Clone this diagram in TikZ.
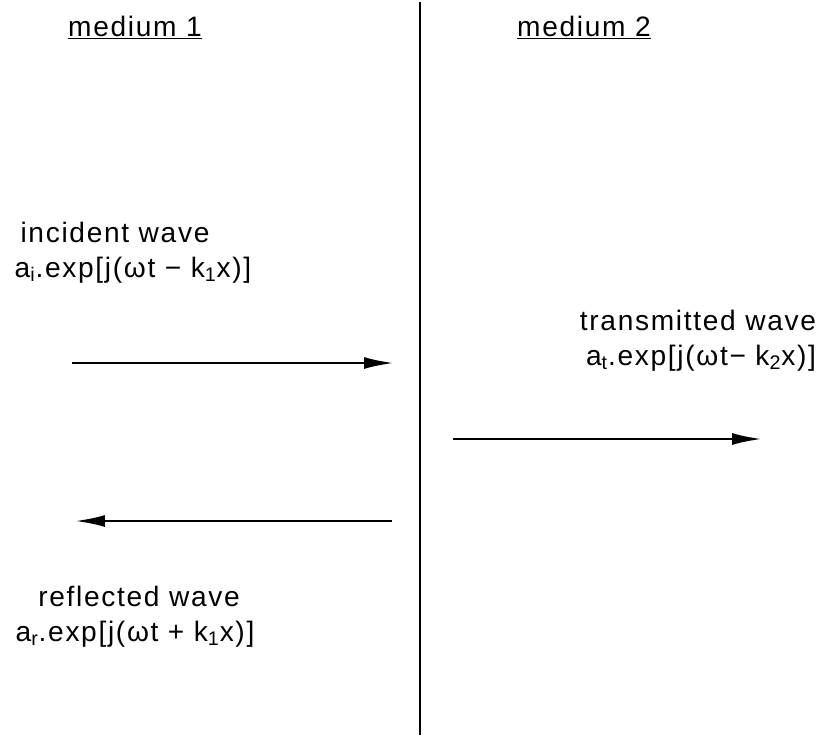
\documentclass[tikz,border=0pt]{standalone}
\usepackage{fontspec}
\setmainfont{Liberation Sans}[LetterSpace=6]
\usetikzlibrary{arrows.meta, positioning}
\tikzset{
    wavetext/.style={font=\fontsize{16}{19}\selectfont, inner sep=0pt, anchor=base},
    wave/.style={-{Latex[length=6mm, width=2.4mm]}, line width=1.5pt},
    interface/.style={line width=1.5pt}
}
\newcommand{\sub}[1]{\textsubscript{#1}}

\begin{document}
\begin{tikzpicture}[x=0.02cm, y=-0.02cm]
        \useasboundingbox (0,0) rectangle (839,735);
        % boundary between the two media
        \coordinate (top) at (420,2);
        \coordinate (bot) at (420,735);
        \draw [interface] (top) -- (bot);
        \node [wavetext] (med1) at (135,36) {\underline{medium 1}};
        \node [wavetext] (med2) at (584,36) {\underline{medium 2}};
        % incident
        \node [wavetext] (inc) at (115,242) {incident wave};
        \node [wavetext] (incf) at (133,277) {a\sub{i}.exp[j(ωt − k\sub{1}x)]};
        \coordinate (inc1) at (72,363);
        \coordinate (inc2) at (394,363);
        \draw [wave] (inc1) -- (inc2);
        % transmitted
        \node [wavetext] (tra) at (698,330) {transmitted wave};
        \node [wavetext] (traf) at (701,365) {a\sub{t}.exp[j(ωt− k\sub{2}x)]};
        \coordinate (tra1) at (453,439);
        \coordinate (tra2) at (762,439);
        \draw [wave] (tra1) -- (tra2);
        % reflected
        \coordinate (ref1) at (392,521);
        \coordinate (ref2) at (75,521);
        \draw [wave] (ref1) -- (ref2);
        \node [wavetext] (ref) at (139,606) {reflected wave};
        \node [wavetext] (reff) at (135,641) {a\sub{r}.exp[j(ωt + k\sub{1}x)]};
    \end{tikzpicture}
\end{document}
